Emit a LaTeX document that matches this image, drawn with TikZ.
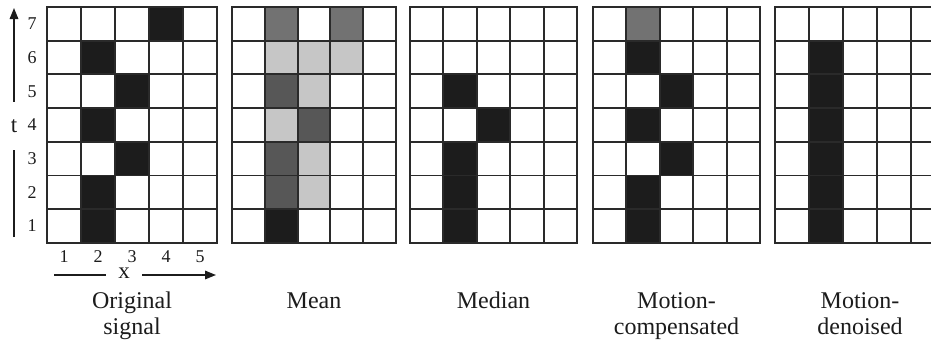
\documentclass[tikz,border=0pt]{standalone}
\usepackage{fontspec}
\setmainfont{Liberation Serif}
\usetikzlibrary{arrows.meta,positioning}
\definecolor{Ink}{HTML}{1C1C1C}
\definecolor{Rule}{HTML}{2A2A2A}
\definecolor{DarkGray}{HTML}{575757}
\definecolor{MidGray}{HTML}{727272}
\definecolor{LightGray}{HTML}{C6C6C6}
% fill one cell: column, row (1 = bottom), colour
\newcommand{\paint}[3]{\fill[#3] (#1-1,7-#2) rectangle ++(1,1);}
\newcommand{\cells}{%
  \foreach \c in {1,...,4} {\draw[gridline] (\c,0) -- (\c,7);}
  \foreach \r in {1,...,6} {\draw[gridline] (0,\r) -- (5,\r);}
  \draw[gridline] (0,0) rectangle (5,7);}

\begin{document}
\begin{tikzpicture}[
  x=1pt,y=-1pt,
  gridline/.style={draw=Rule,line width=1.9pt},
  tick/.style={inner sep=0pt,font=\fontsize{18}{20}\selectfont,text=Ink},
  axislabel/.style={inner sep=0pt,font=\fontsize{23}{25}\selectfont,text=Ink},
  caption/.style={anchor=base,inner sep=0pt,font=\fontsize{24}{26}\selectfont,text=Ink},
  axis/.style={draw=Ink,line width=1.6pt},
  arrow/.style={axis,-{Triangle[length=11pt,width=8.5pt]}}
]
\clip (0,0) rectangle (931,343);
\fill[white] (0,0) rectangle (931,343);

% original signal
\begin{scope}[shift={(47,7)},x=34pt,y=-33.7pt]
  \paint{4}{7}{Ink}
  \paint{2}{6}{Ink}
  \paint{3}{5}{Ink}
  \paint{2}{4}{Ink}
  \paint{3}{3}{Ink}
  \paint{2}{2}{Ink}
  \paint{2}{1}{Ink}
  \cells
\end{scope}

% mean
\begin{scope}[shift={(232,7)},x=32.8pt,y=-33.7pt]
  \paint{2}{7}{MidGray}
  \paint{4}{7}{MidGray}
  \paint{2}{6}{LightGray}
  \paint{3}{6}{LightGray}
  \paint{4}{6}{LightGray}
  \paint{2}{5}{DarkGray}
  \paint{3}{5}{LightGray}
  \paint{2}{4}{LightGray}
  \paint{3}{4}{DarkGray}
  \paint{2}{3}{DarkGray}
  \paint{3}{3}{LightGray}
  \paint{2}{2}{DarkGray}
  \paint{3}{2}{LightGray}
  \paint{2}{1}{Ink}
  \cells
\end{scope}

% median
\begin{scope}[shift={(410,7)},x=33.4pt,y=-33.7pt]
  \paint{2}{5}{Ink}
  \paint{3}{4}{Ink}
  \paint{2}{3}{Ink}
  \paint{2}{2}{Ink}
  \paint{2}{1}{Ink}
  \cells
\end{scope}

% motion-compensated
\begin{scope}[shift={(593,7)},x=33.4pt,y=-33.7pt]
  \paint{2}{7}{MidGray}
  \paint{2}{6}{Ink}
  \paint{3}{5}{Ink}
  \paint{2}{4}{Ink}
  \paint{3}{3}{Ink}
  \paint{2}{2}{Ink}
  \paint{2}{1}{Ink}
  \cells
\end{scope}

% motion-denoised
\begin{scope}[shift={(775,7)},x=34pt,y=-33.7pt]
  \foreach \r in {1,...,6} {\paint{2}{\r}{Ink}}
  \cells
\end{scope}

% axes
\foreach \r in {1,...,7}
  \node[tick] (row\r) at (32,{7+(7.5-\r)*33.7}) {\r};
\foreach \c in {1,...,5}
  \node[tick] (col\c) at ({47+(\c-0.5)*34},257) {\c};

\node[axislabel,minimum height=48pt] (t) at (14,126) {t};
\coordinate (tfoot) at (14,237);
\coordinate (ttip) at (14,8);
\draw[axis] (tfoot) -- (t);
\draw[arrow] (t) -- (ttip);

\node[axislabel,minimum width=36pt] (x) at (124,273) {x};
\coordinate (xfoot) at (54,275);
\coordinate (xtip) at (216,275);
\draw[axis] (xfoot) -- (xfoot -| x.west);
\draw[arrow] (xtip -| x.east) -- (xtip);

% captions
\node[caption] (origA) at (132,308) {Original};
\node[caption] (origB) at (132,334) {signal};
\node[caption] (meanA) at (314,308) {Mean};
\node[caption] (medA) at (493.5,308) {Median};
\node[caption] (mcA) at (676.5,308) {Motion-};
\node[caption] (mcB) at (676.5,334) {compensated};
\node[caption] (mdA) at (860,308) {Motion-};
\node[caption] (mdB) at (860,334) {denoised};
\end{tikzpicture}
\end{document}
